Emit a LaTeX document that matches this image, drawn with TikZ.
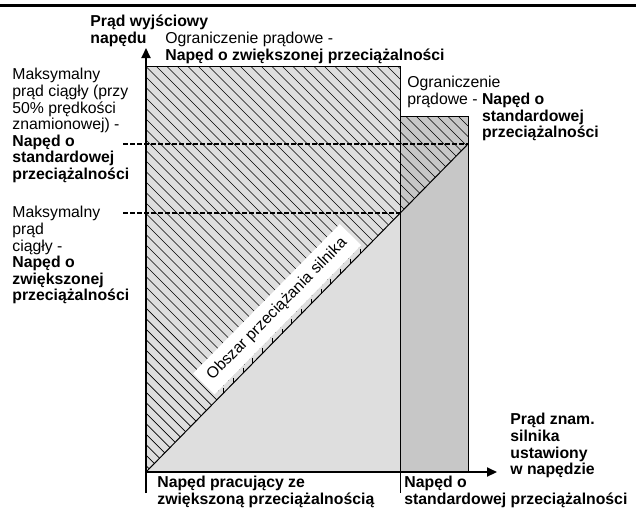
\documentclass[tikz,border=0pt]{standalone}
\usepackage{fontspec}
\setmainfont{Liberation Sans}
\usetikzlibrary{calc,arrows.meta}
\definecolor{hdfill}{gray}{0.87}
\definecolor{sdfill}{gray}{0.78}
\tikzset{
% Styles for the overload chart: axes, outlines, hatching and labels
axis line/.style={line width=1pt,-{Triangle[length=5pt,width=4.5pt]}},
outline/.style={line width=0.5pt},
limit line/.style={line width=0.8pt,dash pattern=on 2.5pt off 1pt},
hatch line/.style={line width=0.35pt},
plain label/.style={anchor=north west,inner sep=0,align=left,font=\fontsize{7.9}{8.3}\selectfont},
bold label/.style={plain label,font=\fontsize{7.9}{8.3}\selectfont\bfseries}
}

\begin{document}
\begin{tikzpicture}[x=0.5pt,y=-0.5pt]
\useasboundingbox (0,0) rectangle (636,509);
% Key points of the chart
\coordinate (O) at (146,472);
\coordinate (ytip) at (146,48);
\coordinate (ybot) at (146,493);
\coordinate (xtip) at (497,472);
\coordinate (dtop) at (468,144);
% The two current regions
\fill[hdfill] (146,66) rectangle (400,472);
\fill[sdfill] (400,116) rectangle (468,472);
% Hatching above the motor line
\begin{scope}
\clip (O) -- (146,66) -- (400,66) -- (400,116) -- (468,116) -- (dtop) -- cycle;
\foreach \c in {-330,-319.5,...,410}
\draw[hatch line] (\c,0) -- ++(600,600);
\end{scope}
% Overload zone band with ticks
\coordinate (d1) at ($(O)!0.225!(dtop)$);
\coordinate (d2) at ($(O)!0.68!(dtop)$);
\coordinate (s1) at ($(d1)!2.5pt!90:(d2)$);
\coordinate (s2) at ($(d2)!2.5pt!-90:(d1)$);
\fill[hdfill] (d1) -- (d2) -- (s2) -- (s1) -- cycle;
\foreach \k [evaluate=\k as \t using (\k+0.5)/15] in {0,...,14}
\draw[hatch line] ($(d1)!\t!(d2)$) -- ++(0,-5);
\node[rotate=45.5,anchor=south,fill=white,inner sep=0,minimum width=104.6pt,minimum height=15pt,font=\fontsize{7.9}{8.3}\selectfont] (zone) at ($(s1)!0.5!(s2)$) {Obszar przeciążania silnika};
% Continuous current levels
\draw[limit line] (123,144) -- (dtop);
\draw[limit line] (123,213) -- (400,213);
% Outlines and motor line
\draw[outline] (146,66) -- (400,66) -- (400,493);
\draw[outline] (400,116) -- (468,116) -- (468,472);
\draw[outline] (O) -- (dtop);
% Axes
\draw[axis line] (ybot) -- (ytip);
\draw[axis line] (O) -- (xtip);
\draw[line width=1.5pt] (0,5) -- (636,5);
% Labels
\node[bold label] (ylab) at (90,15) {Prąd wyjściowy\\napędu};
\node[plain label] (hdlim) at (165,32) {Ograniczenie prądowe -\\\textbf{Napęd o zwiększonej przeciążalności}};
\node[plain label] (sdmax) at (12,68) {Maksymalny\\prąd ciągły (przy\\50\% prędkości\\znamionowej) -\\\textbf{Napęd o}\\\textbf{standardowej}\\\textbf{przeciążalności}};
\node[plain label] (hdmax) at (12,206) {Maksymalny\\prąd\\ciągły -\\\textbf{Napęd o}\\\textbf{zwiększonej}\\\textbf{przeciążalności}};
\node[plain label] (sdlim) at (407,76) {Ograniczenie\\prądowe - \textbf{Napęd o}\\\hphantom{prądowe - }\textbf{standardowej}\\\hphantom{prądowe - }\textbf{przeciążalności}};
\node[bold label] (xlab) at (510,413) {Prąd znam.\\silnika\\ustawiony\\w napędzie};
\node[bold label] (hdrun) at (157,476) {Napęd pracujący ze\\zwiększoną przeciążalnością};
\node[bold label] (sdrun) at (404,476) {Napęd o\\standardowej przeciążalności};
\end{tikzpicture}
\end{document}
